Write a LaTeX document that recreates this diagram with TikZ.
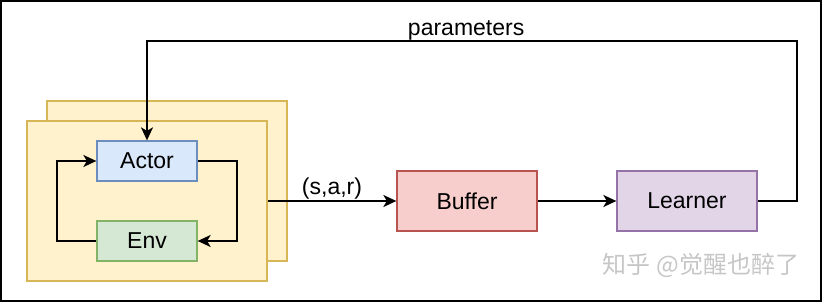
\documentclass[tikz,border=0pt]{standalone}
\usepackage{fontspec}
\setmainfont{Liberation Sans}
\newfontfamily\cjk{Noto Sans CJK SC}
\usetikzlibrary{arrows.meta}
\definecolor{ylfill}{HTML}{FFF2CC}\definecolor{yldraw}{HTML}{D6B656}
\definecolor{blfill}{HTML}{DAE8FC}\definecolor{bldraw}{HTML}{6C8EBF}
\definecolor{grfill}{HTML}{D5E8D4}\definecolor{grdraw}{HTML}{82B366}
\definecolor{rdfill}{HTML}{F8CECC}\definecolor{rddraw}{HTML}{B85450}
\definecolor{pufill}{HTML}{E1D5E7}\definecolor{pudraw}{HTML}{9673A6}
\begin{document}
\begin{tikzpicture}[x=1pt,y=-1pt,
  box/.style={draw,line width=1.3pt,minimum width=100pt,minimum height=40pt,inner sep=0pt,font=\fontsize{23}{27}\selectfont},
  bigbox/.style={box,minimum width=140pt,minimum height=60pt},
  frame/.style={draw=yldraw,fill=ylfill,line width=1.3pt},
  conn/.style={line width=1.8pt,-{Stealth[length=13pt,width=12pt,inset=3.5pt]}},
  lbl/.style={font=\fontsize{23}{27}\selectfont}]
\useasboundingbox (0,0) rectangle (822,302);
\draw[line width=2.5pt] (1,1) rectangle (821,301);
\draw[frame] (47,101) rectangle (287,261);
\node[frame,minimum width=240pt,minimum height=160pt,inner sep=0pt] (agent) at (147,201) {};
\node[box,fill=blfill,draw=bldraw] (actor) at (147,161) {Actor};
\node[box,fill=grfill,draw=grdraw] (env) at (147,241) {Env};
\node[bigbox,fill=rdfill,draw=rddraw] (buffer) at (467,201) {Buffer};
\node[bigbox,fill=pufill,draw=pudraw] (learner) at (687,201) {Learner};
\coordinate (c1) at (237,161);
\coordinate (c2) at (237,241);
\coordinate (c3) at (57,241);
\coordinate (c4) at (57,161);
\coordinate (p1) at (797,201);
\coordinate (p2) at (797,41);
\coordinate (p3) at (147,41);
\draw[conn] (actor.east) -- (c1) -- (c2) -- (env.east);
\draw[conn] (env.west) -- (c3) -- (c4) -- (actor.west);
\draw[conn] (agent.east) -- node[lbl,above,yshift=-2pt] {(s,a,r)} (buffer.west);
\draw[conn] (buffer.east) -- (learner.west);
\draw[conn] (learner.east) -- (p1) -- (p2) -- node[lbl,above,pos=0.509,yshift=-4pt] {parameters} (p3) -- (actor.north);
\node[font=\cjk\fontsize{24}{28}\selectfont,text=gray!45] (wm) at (701,265) {知乎 @觉醒也醉了};
\end{tikzpicture}
\end{document}
